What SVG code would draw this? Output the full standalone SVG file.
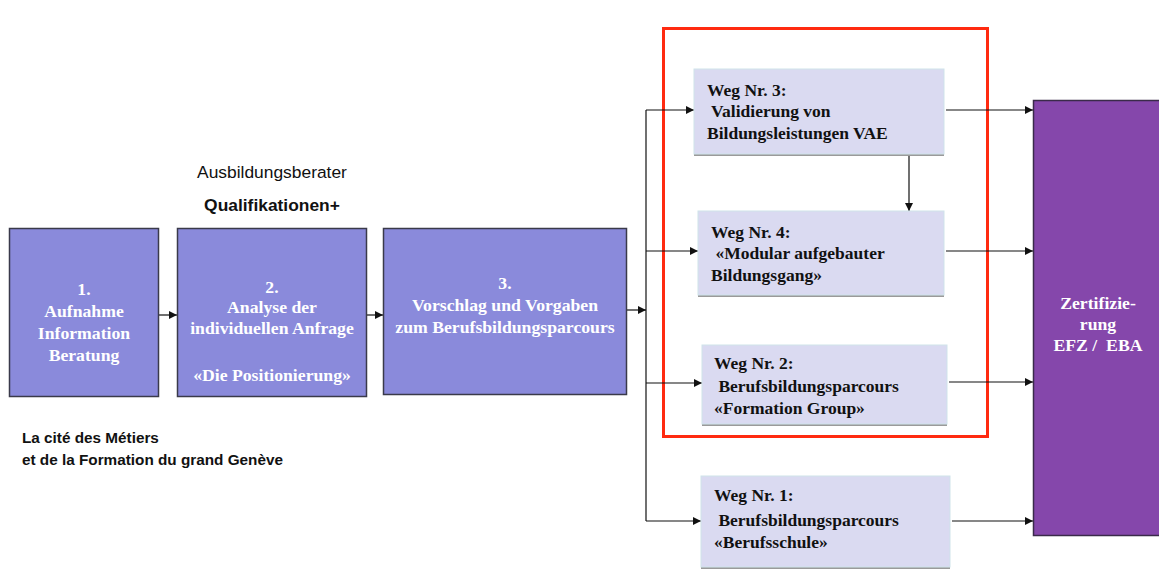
<svg xmlns="http://www.w3.org/2000/svg" width="1159" height="579" viewBox="0 0 1159 579">
<style>
.step{fill:#8a8adb;stroke:#3a3a4a;stroke-width:1.5}
.weg{fill:#dadaf1;stroke:#cfe3ea;stroke-width:1}
.shadow{fill:#9a9a9a}
.st{font-family:"Liberation Serif","Times New Roman",serif;font-weight:bold;font-size:17.7px;fill:#ffffff;text-anchor:middle}
.wt{font-family:"Liberation Serif","Times New Roman",serif;font-weight:bold;font-size:17.5px;fill:#111111}
.lab{font-family:"Liberation Sans",Arial,sans-serif;fill:#111111}
.conn{stroke:#111111;stroke-width:1.2;fill:none}
</style>
<defs>
<marker id="ah" viewBox="0 0 10 10" refX="10" refY="5" markerWidth="8" markerHeight="8" markerUnits="userSpaceOnUse" orient="auto">
<path d="M0,0 L10,5 L0,10 z" fill="#111111"/>
</marker>
</defs>
<rect x="0" y="0" width="1159" height="579" fill="#ffffff"/>

<g id="labels">
<text class="lab" x="272" y="178" font-size="17.4" text-anchor="middle">Ausbildungsberater</text>
<text class="lab" x="272" y="211" font-size="17.4" font-weight="bold" text-anchor="middle">Qualifikationen+</text>
<text class="lab" x="22" y="443" font-size="15.3" font-weight="bold">La cité des Métiers</text>
<text class="lab" x="22" y="465" font-size="15.3" font-weight="bold">et de la Formation du grand Genève</text>
</g>

<g id="frame">
<rect x="663.5" y="28.5" width="324" height="408" fill="none" stroke="#ff2a10" stroke-width="3"/>
</g>

<g id="connectors">
<line class="conn" x1="159" y1="315" x2="177" y2="315" marker-end="url(#ah)"/>
<line class="conn" x1="367" y1="315" x2="383" y2="315" marker-end="url(#ah)"/>
<line class="conn" x1="627" y1="310" x2="646" y2="310" marker-end="url(#ah)"/>
<line class="conn" x1="646" y1="110" x2="646" y2="521"/>
<line class="conn" x1="646" y1="110" x2="694" y2="110" marker-end="url(#ah)"/>
<line class="conn" x1="646" y1="251" x2="698" y2="251" marker-end="url(#ah)"/>
<line class="conn" x1="646" y1="383" x2="702" y2="383" marker-end="url(#ah)"/>
<line class="conn" x1="646" y1="521" x2="701" y2="521" marker-end="url(#ah)"/>
<line class="conn" x1="909" y1="155" x2="909" y2="211" marker-end="url(#ah)"/>
<line class="conn" x1="946" y1="110" x2="1033" y2="110" marker-end="url(#ah)"/>
<line class="conn" x1="946" y1="251" x2="1033" y2="251" marker-end="url(#ah)"/>
<line class="conn" x1="949" y1="382" x2="1033" y2="382" marker-end="url(#ah)"/>
<line class="conn" x1="952" y1="521" x2="1033" y2="521" marker-end="url(#ah)"/>
</g>

<g id="step1">
<rect class="step" x="9.5" y="228.5" width="149" height="168"/>
<text class="st" x="84" y="295">1.</text>
<text class="st" x="84" y="317">Aufnahme</text>
<text class="st" x="84" y="339">Information</text>
<text class="st" x="84" y="361">Beratung</text>
</g>

<g id="step2">
<rect class="step" x="177.5" y="228.5" width="189" height="168"/>
<text class="st" x="272" y="293">2.</text>
<text class="st" x="272" y="313">Analyse der</text>
<text class="st" x="272" y="334">individuellen Anfrage</text>
<text class="st" x="272" y="381">«Die Positionierung»</text>
</g>

<g id="step3">
<rect class="step" x="383.5" y="228.5" width="243" height="166"/>
<text class="st" x="505" y="289">3.</text>
<text class="st" x="505" y="311">Vorschlag und Vorgaben</text>
<text class="st" x="505" y="333">zum Berufsbildungsparcours</text>
</g>

<g id="weg3">
<rect class="shadow" x="694" y="71" width="250" height="85"/>
<rect class="weg" x="694" y="69" width="250" height="85"/>
<text class="wt" x="707" y="96">Weg Nr. 3:</text>
<text class="wt" x="707" y="117" xml:space="preserve"> Validierung von</text>
<text class="wt" x="707" y="139">Bildungsleistungen VAE</text>
</g>

<g id="weg4">
<rect class="shadow" x="698" y="213" width="246" height="84"/>
<rect class="weg" x="698" y="211" width="246" height="84"/>
<text class="wt" x="711" y="238">Weg Nr. 4:</text>
<text class="wt" x="711" y="259" xml:space="preserve"> «Modular aufgebauter</text>
<text class="wt" x="711" y="281">Bildungsgang»</text>
</g>

<g id="weg2">
<rect class="shadow" x="702" y="347" width="245" height="79"/>
<rect class="weg" x="702" y="345" width="245" height="79"/>
<text class="wt" x="714" y="369">Weg Nr. 2:</text>
<text class="wt" x="714" y="392" xml:space="preserve"> Berufsbildungsparcours</text>
<text class="wt" x="714" y="414">«Formation Group»</text>
</g>

<g id="weg1">
<rect class="shadow" x="701" y="478" width="249" height="91"/>
<rect class="weg" x="701" y="476" width="249" height="91"/>
<text class="wt" x="714" y="501">Weg Nr. 1:</text>
<text class="wt" x="714" y="526" xml:space="preserve"> Berufsbildungsparcours</text>
<text class="wt" x="714" y="548">«Berufsschule»</text>
</g>

<g id="zertifizierung">
<rect x="1033.5" y="100.5" width="130" height="435" fill="#8547ab" stroke="#3a2a4a" stroke-width="1.5"/>
<text class="st" x="1098" y="309" font-size="19.4">Zertifizie-</text>
<text class="st" x="1098" y="330" font-size="19.4">rung</text>
<text class="st" x="1098" y="351" font-size="19.4" xml:space="preserve">EFZ /  EBA</text>
</g>
</svg>
